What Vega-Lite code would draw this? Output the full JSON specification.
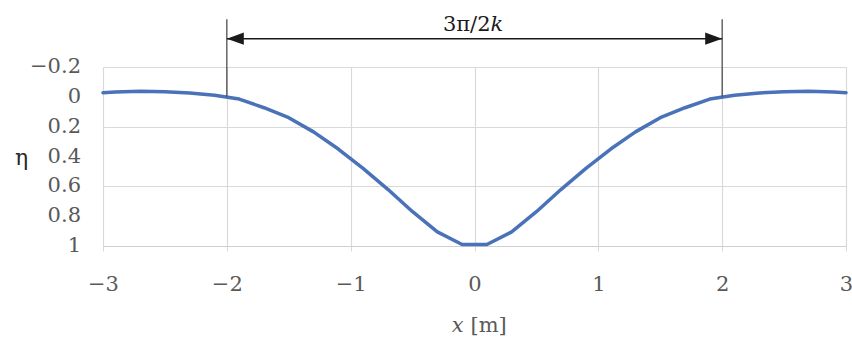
{
  "$schema": "https://vega.github.io/schema/vega-lite/v6.json",
  "autosize": {"type": "none"},
  "width": 743,
  "height": 179,
  "padding": {"left": 103, "top": 67, "right": 6, "bottom": 94},
  "background": "white",
  "config": {
    "view": {"stroke": null},
    "font": "DejaVu Serif",
    "axis": {
      "labelFont": "DejaVu Serif",
      "labelColor": "#595959",
      "labelOverlap": false,
      "labelFlush": false,
      "gridColor": "#d9d9d9",
      "gridWidth": 1.2,
      "titleFont": "DejaVu Serif",
      "titleFontWeight": "normal"
    }
  },
  "datasets": {
    "curve": [
      {"x": -3.0, "eta": -0.028},
      {"x": -2.9, "eta": -0.033},
      {"x": -2.7, "eta": -0.037},
      {"x": -2.5, "eta": -0.034},
      {"x": -2.3, "eta": -0.026},
      {"x": -2.1, "eta": -0.011},
      {"x": -1.9, "eta": 0.015},
      {"x": -1.7, "eta": 0.073},
      {"x": -1.5, "eta": 0.14},
      {"x": -1.3, "eta": 0.235},
      {"x": -1.1, "eta": 0.35},
      {"x": -0.9, "eta": 0.48},
      {"x": -0.7, "eta": 0.62},
      {"x": -0.5, "eta": 0.77},
      {"x": -0.3, "eta": 0.905},
      {"x": -0.1, "eta": 0.99},
      {"x": 0.1, "eta": 0.99},
      {"x": 0.3, "eta": 0.905},
      {"x": 0.5, "eta": 0.77},
      {"x": 0.7, "eta": 0.62},
      {"x": 0.9, "eta": 0.48},
      {"x": 1.1, "eta": 0.35},
      {"x": 1.3, "eta": 0.235},
      {"x": 1.5, "eta": 0.14},
      {"x": 1.7, "eta": 0.073},
      {"x": 1.9, "eta": 0.015},
      {"x": 2.1, "eta": -0.011},
      {"x": 2.3, "eta": -0.026},
      {"x": 2.5, "eta": -0.034},
      {"x": 2.7, "eta": -0.037},
      {"x": 2.9, "eta": -0.033},
      {"x": 3.0, "eta": -0.028}
    ],
    "marks": [
      {"x": -2, "eta": 0, "top": -0.52},
      {"x": 2, "eta": 0, "top": -0.52}
    ],
    "yticks": [
      {"v": -0.2, "label": "−0.2"},
      {"v": 0, "label": "0"},
      {"v": 0.2, "label": "0.2"},
      {"v": 0.4, "label": "0.4"},
      {"v": 0.6, "label": "0.6"},
      {"v": 0.8, "label": "0.8"},
      {"v": 1, "label": "1"}
    ],
    "one": [{"id": 1}]
  },
  "layer": [
    {
      "data": {"name": "curve"},
      "mark": {"type": "line", "color": "#4a72b8", "strokeWidth": 3.5, "strokeJoin": "round", "strokeCap": "round", "clip": false},
      "encoding": {
        "x": {
          "field": "x", "type": "quantitative",
          "scale": {"domain": [-3, 3], "nice": false, "zero": false},
          "axis": {
            "values": [-3, -2, -1, 0, 1, 2, 3],
            "format": "~g",
            "title": null,
            "labelOverlap": false,
            "labelFontSize": 21,
            "labelPadding": 22,
            "tickSize": 5,
            "tickColor": "#d9d9d9",
            "domainColor": "#d0d0d0"
          }
        },
        "y": {
          "field": "eta", "type": "quantitative",
          "scale": {"domain": [-0.2, 1], "nice": false, "zero": false, "reverse": true},
          "axis": {
            "values": [-0.2, 0, 0.2, 0.4, 0.6, 0.8, 1],
            "labels": false,
            "ticks": false,
            "domain": false,
            "title": "η",
            "titleFontSize": 22,
            "titleAngle": 0,
            "titleX": -82,
            "titleY": 90,
            "titleAlign": "center",
            "titleBaseline": "middle",
            "titleColor": "#262626"
          }
        }
      }
    },
    {
      "data": {"name": "yticks"},
      "mark": {"type": "text", "align": "right", "baseline": "middle", "dx": -22, "font": "DejaVu Serif", "fontSize": 21, "color": "#595959", "clip": false},
      "encoding": {
        "x": {"datum": -3, "type": "quantitative"},
        "y": {"field": "v", "type": "quantitative"},
        "text": {"field": "label"}
      }
    },
    {
      "data": {"name": "marks"},
      "mark": {"type": "rule", "color": "#404040", "strokeWidth": 1.2, "clip": false},
      "encoding": {
        "x": {"field": "x", "type": "quantitative"},
        "y": {"field": "eta", "type": "quantitative"},
        "y2": {"field": "top"}
      }
    },
    {
      "data": {"name": "one"},
      "mark": {"type": "rule", "color": "#1a1a1a", "strokeWidth": 1.5, "clip": false},
      "encoding": {
        "x": {"datum": -2, "type": "quantitative"},
        "x2": {"datum": 2},
        "y": {"datum": -0.39, "type": "quantitative"}
      }
    },
    {
      "data": {"name": "one"},
      "mark": {"type": "point", "shape": "M0,0 L2,-0.72 L2,0.72 Z", "filled": true, "color": "#1a1a1a", "opacity": 1, "size": 289, "clip": false},
      "encoding": {
        "x": {"datum": -2, "type": "quantitative"},
        "y": {"datum": -0.39, "type": "quantitative"}
      }
    },
    {
      "data": {"name": "one"},
      "mark": {"type": "point", "shape": "M0,0 L-2,-0.72 L-2,0.72 Z", "filled": true, "color": "#1a1a1a", "opacity": 1, "size": 289, "clip": false},
      "encoding": {
        "x": {"datum": 2, "type": "quantitative"},
        "y": {"datum": -0.39, "type": "quantitative"}
      }
    },
    {
      "data": {"name": "one"},
      "mark": {"type": "text", "text": "3π/2", "align": "right", "baseline": "alphabetic", "dx": 16, "font": "DejaVu Serif", "fontSize": 21, "color": "#1a1a1a"},
      "encoding": {
        "x": {"datum": 0, "type": "quantitative"},
        "y": {"datum": -0.44, "type": "quantitative"}
      }
    },
    {
      "data": {"name": "one"},
      "mark": {"type": "text", "text": "k", "align": "left", "baseline": "alphabetic", "dx": 16, "font": "DejaVu Serif", "fontSize": 21, "fontStyle": "italic", "color": "#1a1a1a"},
      "encoding": {
        "x": {"datum": 0, "type": "quantitative"},
        "y": {"datum": -0.44, "type": "quantitative"}
      }
    },
    {
      "data": {"name": "one"},
      "mark": {"type": "text", "text": "x", "align": "right", "baseline": "alphabetic", "dx": -11, "font": "DejaVu Serif", "fontSize": 21, "fontStyle": "italic", "color": "#595959"},
      "encoding": {
        "x": {"datum": 0, "type": "quantitative"},
        "y": {"datum": 1.576, "type": "quantitative"}
      }
    },
    {
      "data": {"name": "one"},
      "mark": {"type": "text", "text": "[m]", "align": "left", "baseline": "alphabetic", "dx": -4, "font": "DejaVu Serif", "fontSize": 21, "color": "#595959"},
      "encoding": {
        "x": {"datum": 0, "type": "quantitative"},
        "y": {"datum": 1.576, "type": "quantitative"}
      }
    }
  ]
}
